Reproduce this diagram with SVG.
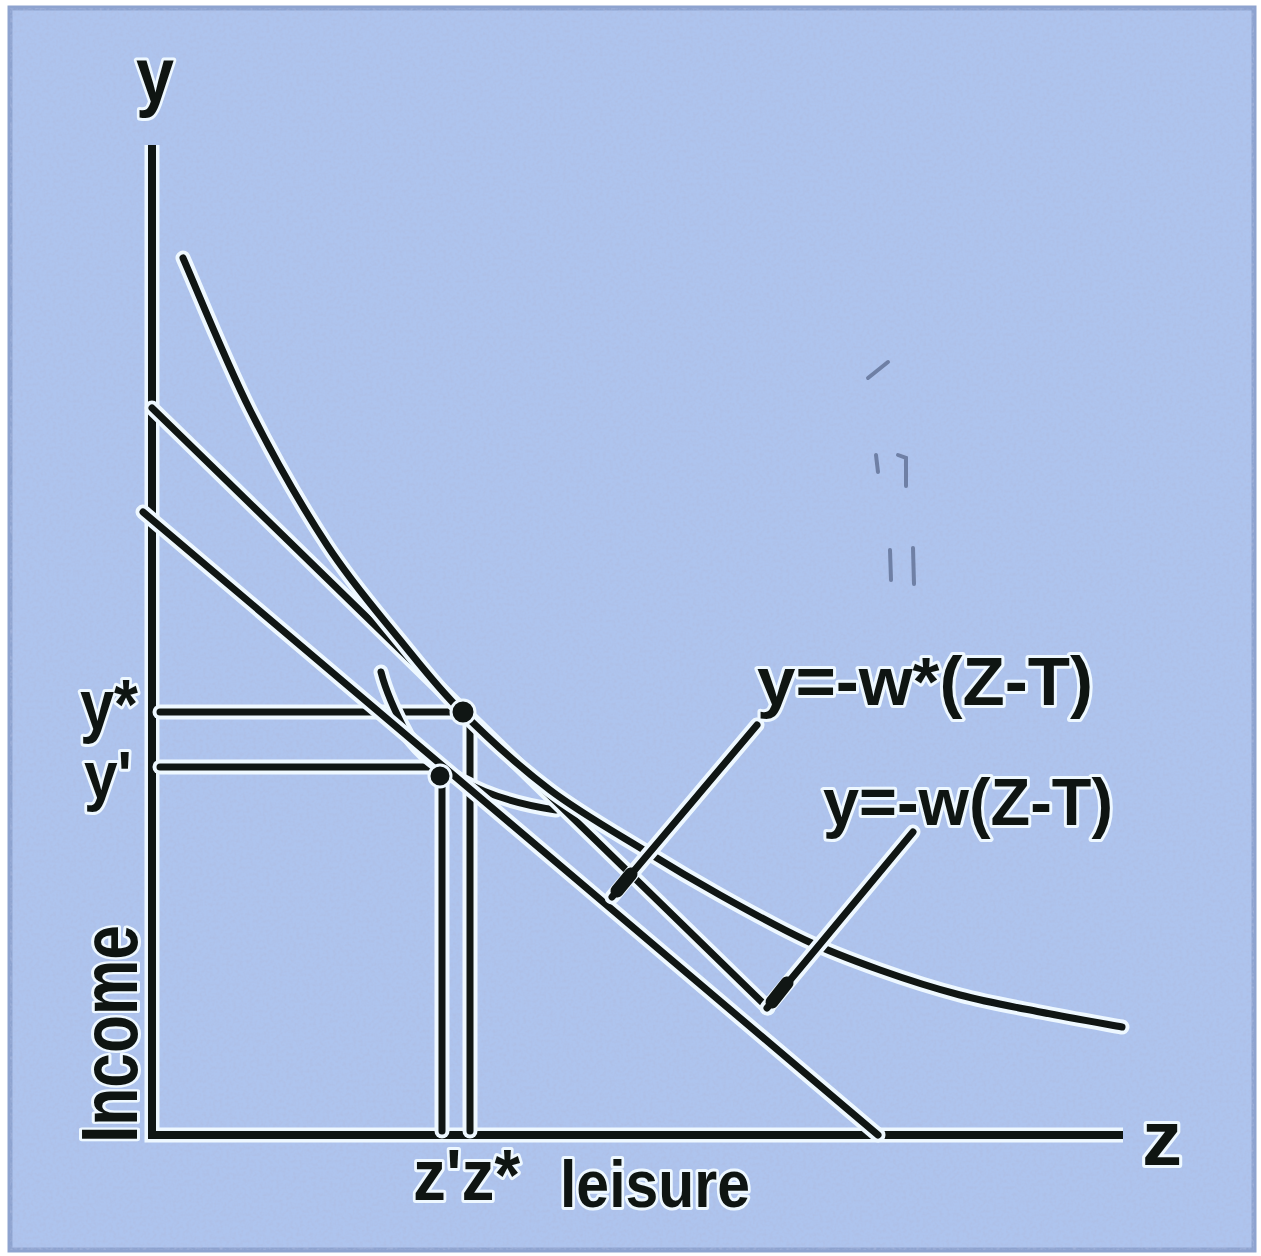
<svg xmlns="http://www.w3.org/2000/svg" width="1261" height="1256" viewBox="0 0 1261 1256">
<defs>
<style>
.h{fill:none;stroke:#eef8ff;stroke-width:15;stroke-linecap:round;stroke-linejoin:round}
.k{fill:none;stroke:#101614;stroke-width:7;stroke-linecap:round;stroke-linejoin:round}
.ax{stroke-linecap:butt;stroke-linejoin:miter}
text{font-family:"Liberation Sans",Arial,sans-serif;font-weight:bold;fill:#0f1512;stroke:#eef8ff;stroke-width:6;paint-order:stroke;stroke-linejoin:round}
.sp{fill:none;stroke:#4d5c80;stroke-width:4;stroke-linecap:round;opacity:0.65}
</style>
<filter id="noise" x="0" y="0" width="100%" height="100%">
<feTurbulence type="fractalNoise" baseFrequency="0.3" numOctaves="2" seed="7"/>
<feColorMatrix type="matrix" values="0 0 0 0 0.42  0 0 0 0 0.5  0 0 0 0 0.75  0 0 0 1.2 -0.45"/>
</filter>
</defs>
<g id="background">
<rect x="0" y="0" width="1261" height="1256" fill="#ffffff"/>
<rect x="10" y="8" width="1244" height="1242" fill="#aec4ee" stroke="#8ea3cf" stroke-width="5"/>
<rect x="10" y="8" width="1244" height="1242" filter="url(#noise)"/>
</g>
<g id="specks">
<path class="sp" d="M868,378 L888,362"/>
<path class="sp" d="M876,455 L878,472 M898,455 L906,458 L906,486"/>
<path class="sp" d="M890,550 L891,580 M913,548 L914,584"/>
</g>
<g id="axes">
<path class="h ax" d="M152,145 V1135 H1123"/>
<path class="k ax" d="M152,145 V1135 H1123" style="stroke-width:8"/>
</g>
<g id="guides">
<path class="h" d="M160,712 H458"/>
<path class="k" d="M160,712 H458"/>
<path class="h" d="M160,767 H436"/>
<path class="k" d="M160,767 H436"/>
<path class="h" d="M442,778 V1131"/>
<path class="k" d="M442,778 V1131"/>
<path class="h" d="M470,720 V1131"/>
<path class="k" d="M470,720 V1131"/>
</g>
<g id="indifference-curve-2">
<path class="h" d="M381,672 C385,688 394,710 408,736 C420,752 430,760 440,766 C460,783 500,802 556,810"/>
<path class="k" d="M381,672 C385,688 394,710 408,736 C420,752 430,760 440,766 C460,783 500,802 556,810"/>
</g>
<g id="budget-line-w">
<path class="h" d="M143,512 L878,1135"/>
<path class="k" d="M143,512 L878,1135"/>
</g>
<g id="budget-line-wstar">
<path class="h" d="M152,408 L768,1008"/>
<path class="k" d="M152,408 L768,1008"/>
</g>
<g id="indifference-curve-1">
<path class="h" d="M183,258 C194.2,283.3 226,362.2 250,410 C274,457.8 302,506.7 327,545 C352,583.3 377.5,612.2 400,640 C422.5,667.8 437,687 462,712 C487,737 519.2,766.7 550,790 C580.8,813.3 618.7,834.5 647,852 C675.3,869.5 693.7,880.3 720,895 C746.3,909.7 778.3,927.5 805,940 C831.7,952.5 854.2,960.8 880,970 C905.8,979.2 933.3,988 960,995 C986.7,1002 1013,1006.7 1040,1012 C1067,1017.3 1108.3,1024.5 1122,1027"/>
<path class="k" d="M183,258 C194.2,283.3 226,362.2 250,410 C274,457.8 302,506.7 327,545 C352,583.3 377.5,612.2 400,640 C422.5,667.8 437,687 462,712 C487,737 519.2,766.7 550,790 C580.8,813.3 618.7,834.5 647,852 C675.3,869.5 693.7,880.3 720,895 C746.3,909.7 778.3,927.5 805,940 C831.7,952.5 854.2,960.8 880,970 C905.8,979.2 933.3,988 960,995 C986.7,1002 1013,1006.7 1040,1012 C1067,1017.3 1108.3,1024.5 1122,1027"/>
</g>
<g id="connectors">
<path class="h" d="M757,725 L612,897"/>
<path class="k" d="M757,725 L612,897"/>
<path class="k" d="M617,891 L631,874" style="stroke-width:13"/>
<path class="h" d="M913,832 L767,1008"/>
<path class="k" d="M913,832 L767,1008"/>
<path class="k" d="M772,1002 L787,983" style="stroke-width:13"/>
</g>
<g id="point-ystar">
<circle cx="463" cy="712" r="12" fill="#101614" stroke="#eef8ff" stroke-width="3"/>
</g>
<g id="point-yprime">
<circle cx="440" cy="776" r="11" fill="#101614" stroke="#eef8ff" stroke-width="3"/>
</g>
<g id="labels">
<text x="155" y="102" font-size="78" text-anchor="middle" textLength="38" lengthAdjust="spacingAndGlyphs">y</text>
<text x="1142" y="1165" font-size="78" textLength="40" lengthAdjust="spacingAndGlyphs">z</text>
<text x="80" y="729" font-size="70" textLength="58" lengthAdjust="spacingAndGlyphs">y*</text>
<text x="84" y="798" font-size="66" textLength="48" lengthAdjust="spacingAndGlyphs">y'</text>
<text transform="translate(137,1143) rotate(-90)" x="0" y="0" font-size="80" textLength="218" lengthAdjust="spacingAndGlyphs">Income</text>
<text x="413" y="1200" font-size="72" textLength="107" lengthAdjust="spacingAndGlyphs">z'z*</text>
<text x="560" y="1207" font-size="66" textLength="190" lengthAdjust="spacingAndGlyphs">leisure</text>
<text x="757" y="705" font-size="68" textLength="336" lengthAdjust="spacingAndGlyphs">y=-w*(Z-T)</text>
<text x="823" y="825" font-size="66" textLength="290" lengthAdjust="spacingAndGlyphs">y=-w(Z-T)</text>
</g>
</svg>
